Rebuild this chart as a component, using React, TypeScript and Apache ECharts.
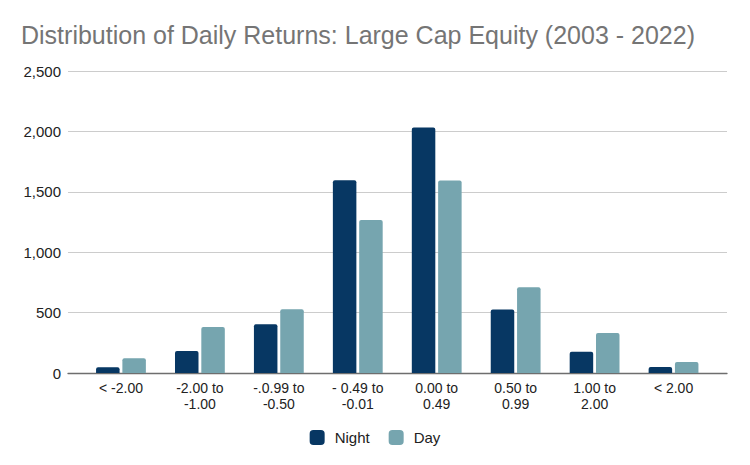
import React, { useEffect, useRef } from "react";
import * as echarts from "echarts";

const categories = [
  "< -2.00",
  "-2.00 to\n-1.00",
  "-.0.99 to\n-0.50",
  "- 0.49 to\n-0.01",
  "0.00 to\n0.49",
  "0.50 to\n0.99",
  "1.00 to\n2.00",
  "< 2.00",
];
const nightValues = [48, 183, 404, 1595, 2032, 525, 175, 50];
const dayValues = [122, 381, 527, 1266, 1594, 710, 331, 92];
const yTicks = [0, 500, 1000, 1500, 2000, 2500];

const FONT = "'Liberation Sans', Arial, sans-serif";

export default function App() {
  const ref = useRef<HTMLDivElement>(null);
  useEffect(() => {
    if (!ref.current) return;
    const chart = echarts.init(ref.current, null, { renderer: "svg" });
    const yMax = yTicks[yTicks.length - 1];
    const yInterval = yTicks[1] - yTicks[0];
    chart.setOption({
      animation: false,
      backgroundColor: "#ffffff",
      textStyle: { fontFamily: FONT },
      title: {
        text: "Distribution of Daily Returns: Large Cap Equity (2003 - 2022)",
        left: 21,
        top: 22,
        padding: 0,
        textStyle: { fontFamily: FONT, fontSize: 25, fontWeight: "normal", color: "#757575" },
      },
      legend: {
        data: ["Night", "Day"],
        left: "center",
        top: 425,
        itemWidth: 15,
        itemHeight: 15,
        itemGap: 19,
        icon: "roundRect",
        textStyle: { fontFamily: FONT, fontSize: 15, color: "#222222", padding: [0, 0, 0, 5] },
      },
      grid: [
        { left: 68, right: 23, top: 71, bottom: 92 },
        { left: 81.5, right: 37, top: 71, bottom: 92 },
      ],
      xAxis: [
        {
          gridIndex: 0,
          type: "value",
          min: 0,
          max: 1,
          axisLine: { show: true, lineStyle: { color: "#6e6e6e", width: 1.3 } },
          axisTick: { show: false },
          axisLabel: { show: false },
          splitLine: { show: false },
        },
        {
          gridIndex: 1,
          type: "category",
          data: categories,
          axisLine: { show: false },
          axisTick: { show: false },
          axisLabel: {
            fontFamily: FONT,
            fontSize: 14,
            lineHeight: 16,
            color: "#222222",
            margin: 7,
            interval: 0,
          },
        },
      ],
      yAxis: [
        {
          gridIndex: 0,
          type: "value",
          min: 0,
          max: yMax,
          interval: yInterval,
          axisLine: { show: false },
          axisTick: { show: false },
          axisLabel: {
            fontFamily: FONT,
            fontSize: 15,
            color: "#222222",
            margin: 7,
            formatter: (v: number) => v.toLocaleString("en-US"),
          },
          splitLine: { lineStyle: { color: "#cccccc", width: 1 } },
        },
        {
          gridIndex: 1,
          type: "value",
          min: 0,
          max: yMax,
          interval: yInterval,
          axisLine: { show: false },
          axisTick: { show: false },
          axisLabel: { show: false },
          splitLine: { show: false },
        },
      ],
      series: [
        {
          name: "Night",
          type: "bar",
          xAxisIndex: 1,
          yAxisIndex: 1,
          data: nightValues,
          barWidth: 23.5,
          barGap: "12%",
          itemStyle: { color: "#073763", borderRadius: [2, 2, 0, 0] },
        },
        {
          name: "Day",
          type: "bar",
          xAxisIndex: 1,
          yAxisIndex: 1,
          data: dayValues,
          barWidth: 23.5,
          barGap: "12%",
          itemStyle: { color: "#76a5af", borderRadius: [2, 2, 0, 0] },
        },
      ],
    });
    return () => chart.dispose();
  }, []);
  return (
    <div
      ref={ref}
      style={{ position: "absolute", left: 0, top: 0, width: 750, height: 465 }}
    />
  );
}
